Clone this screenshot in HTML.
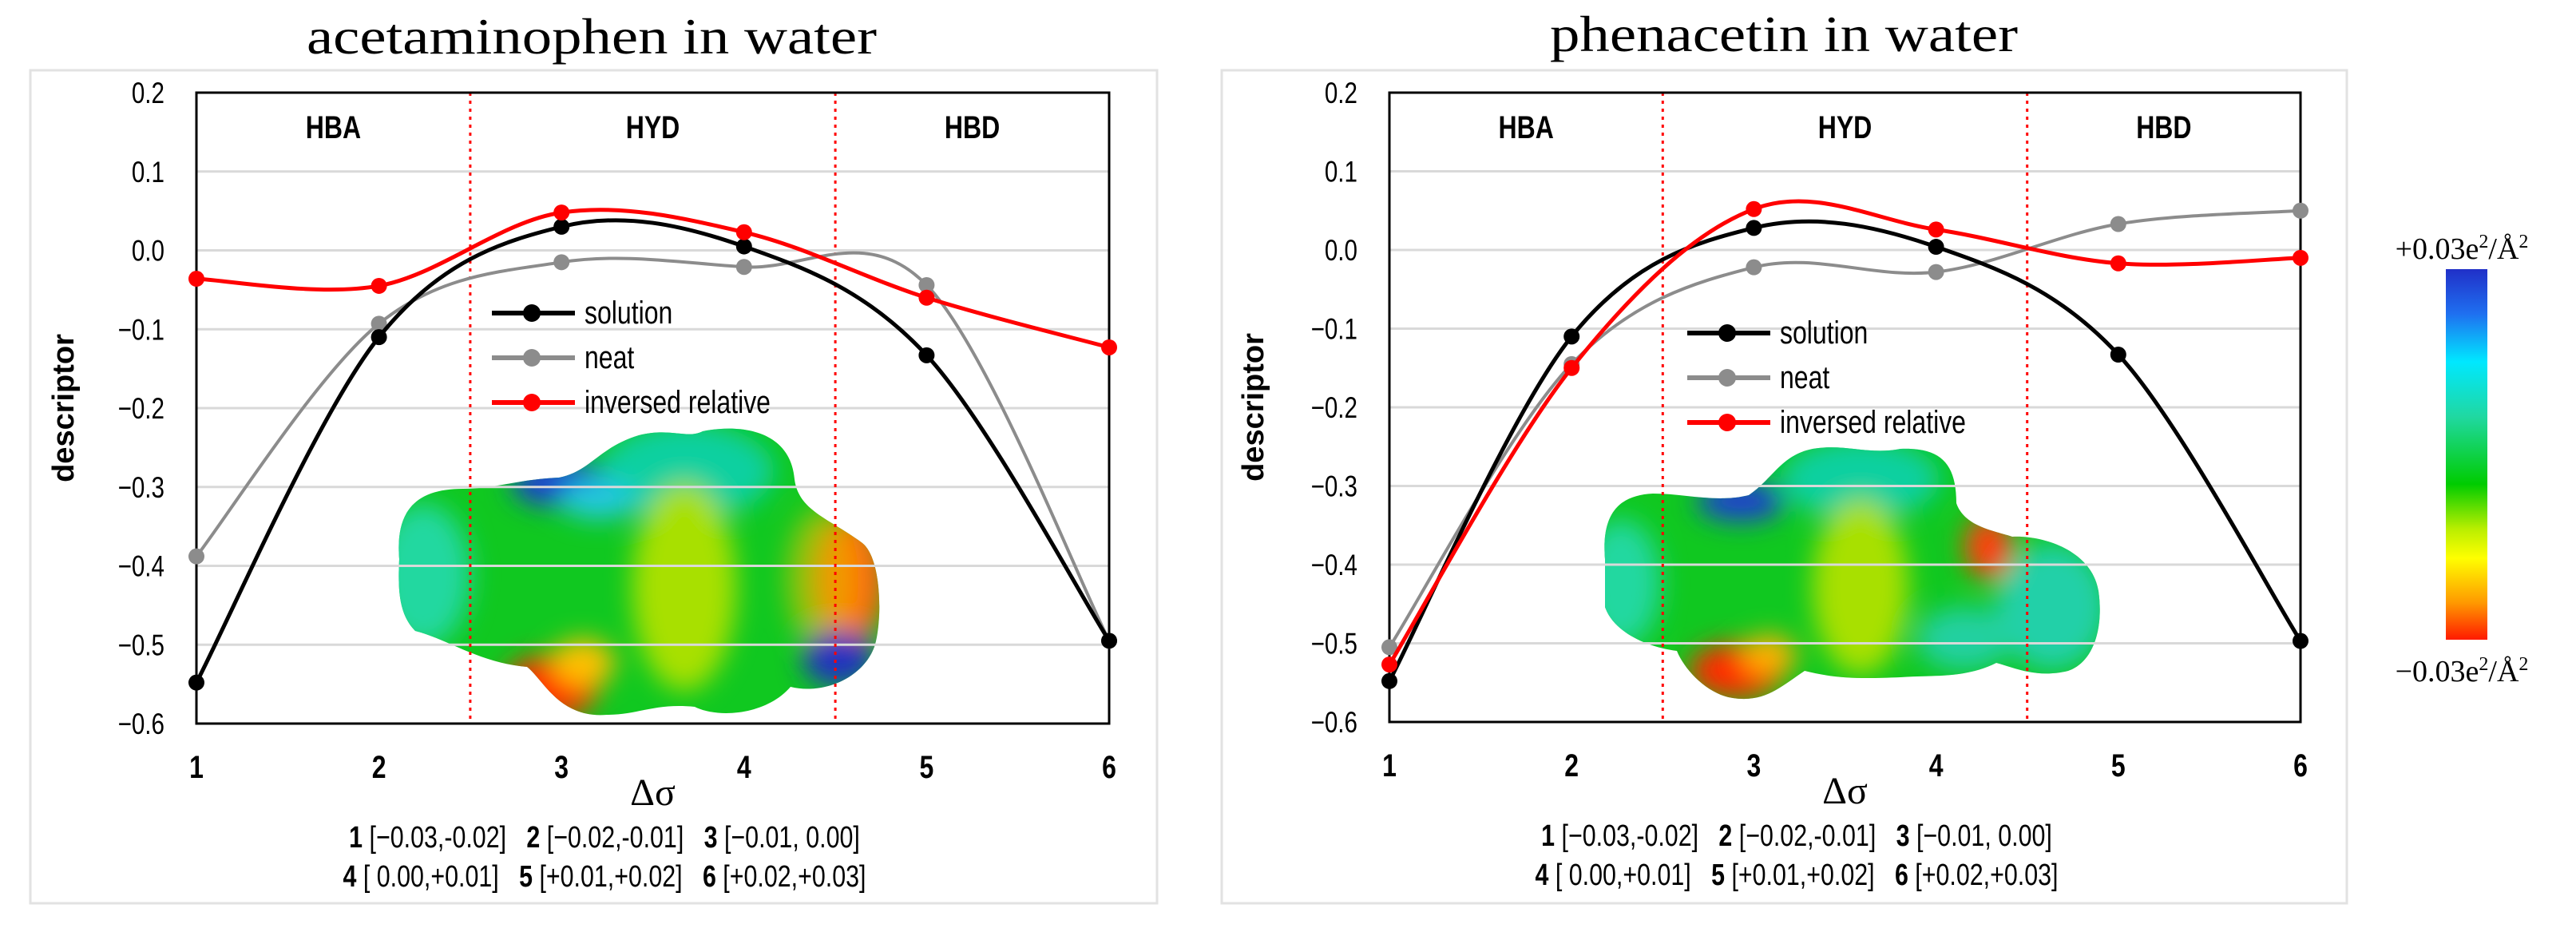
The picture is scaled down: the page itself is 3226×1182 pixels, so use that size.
<!DOCTYPE html>
<html><head><meta charset="utf-8"><style>
html,body{margin:0;padding:0;background:#fff;}
svg{display:block;}
.cond{font-family:"Liberation Sans",sans-serif;}
.serif{font-family:"Liberation Serif",serif;}
.pre{white-space:pre;}
</style></head><body>
<svg id="root" width="3226" height="1182" viewBox="0 0 3226 1182" xmlns="http://www.w3.org/2000/svg">
<defs>
<linearGradient id="cbar" x1="0" y1="0" x2="0" y2="1">
<stop offset="0" stop-color="#2030c8"/><stop offset="0.12" stop-color="#1f6ff0"/>
<stop offset="0.25" stop-color="#00e8ff"/><stop offset="0.4" stop-color="#20d8a0"/>
<stop offset="0.58" stop-color="#00cc00"/><stop offset="0.7" stop-color="#b8ee00"/>
<stop offset="0.78" stop-color="#ffff00"/><stop offset="0.9" stop-color="#ff9900"/>
<stop offset="1" stop-color="#ff1a00"/></linearGradient>
<filter id="blur" x="-20%" y="-20%" width="140%" height="140%"><feGaussianBlur stdDeviation="16"/></filter>
<clipPath id="clipL"><path d="M500,700 C495,640 520,612 580,612 C620,612 650,600 700,598 C740,590 750,560 800,545 C840,535 860,550 880,540 C930,530 990,540 995,600 C1000,640 1040,650 1080,680 C1105,700 1105,780 1095,810 C1080,850 1030,870 990,860 C960,895 900,900 870,885 C820,880 800,895 760,895 C700,900 680,850 660,835 C600,830 560,800 520,790 C500,770 498,740 500,700 Z"/></clipPath>
<clipPath id="clipR"><path d="M2010,700 C2005,640 2030,620 2070,618 C2110,618 2150,630 2190,620 C2220,600 2230,570 2270,562 C2310,555 2340,570 2380,562 C2430,560 2450,580 2450,630 C2460,660 2500,665 2520,672 C2560,670 2620,690 2628,740 C2635,790 2620,830 2590,840 C2550,850 2520,835 2500,830 C2460,850 2420,845 2380,848 C2330,850 2300,850 2260,840 C2230,860 2210,880 2170,874 C2140,870 2110,840 2100,815 C2060,810 2020,790 2010,760 Z"/></clipPath>
</defs>

<rect x="38" y="88" width="1411" height="1043" fill="none" stroke="#e2e2e2" stroke-width="3"/>
<rect x="1530" y="88" width="1409" height="1043" fill="none" stroke="#e2e2e2" stroke-width="3"/>

<text class="serif" x="741" y="67" font-size="64" text-anchor="middle" textLength="714" lengthAdjust="spacingAndGlyphs">acetaminophen in water</text>
<text class="serif" x="2234" y="64" font-size="64" text-anchor="middle" textLength="586" lengthAdjust="spacingAndGlyphs">phenacetin in water</text>

<g>
<g clip-path="url(#clipL)">
<rect x="480" y="520" width="640" height="400" fill="#10c820"/>
<g filter="url(#blur)">
<ellipse cx="530" cy="720" rx="60" ry="90" fill="#20d8a0"/>
<ellipse cx="860" cy="590" rx="110" ry="60" fill="#10d0a0"/>
<ellipse cx="700" cy="605" rx="60" ry="30" fill="#1f3fd0"/>
<ellipse cx="750" cy="625" rx="50" ry="25" fill="#20c8e0"/>
<ellipse cx="857" cy="735" rx="65" ry="130" fill="#a8e000"/>
<ellipse cx="1065" cy="725" rx="45" ry="80" fill="#ff6010"/>
<ellipse cx="1030" cy="725" rx="45" ry="90" fill="#e8c000" opacity="0.6"/>
<ellipse cx="1050" cy="825" rx="45" ry="35" fill="#2030c0"/>
<ellipse cx="690" cy="860" rx="60" ry="40" fill="#ff2a00"/>
<ellipse cx="730" cy="830" rx="40" ry="30" fill="#ffc000"/>
</g>
</g>
</g>
<g>
<g clip-path="url(#clipR)">
<rect x="1990" y="540" width="660" height="360" fill="#10c820"/>
<g filter="url(#blur)">
<ellipse cx="2030" cy="730" rx="50" ry="80" fill="#20d8a0"/>
<ellipse cx="2330" cy="600" rx="100" ry="50" fill="#10d0a0"/>
<ellipse cx="2180" cy="628" rx="55" ry="25" fill="#1f3fd0"/>
<ellipse cx="2570" cy="760" rx="70" ry="80" fill="#20d0a8"/>
<ellipse cx="2460" cy="800" rx="60" ry="40" fill="#20d0a0"/>
<ellipse cx="2330" cy="735" rx="60" ry="110" fill="#a8e000"/>
<ellipse cx="2490" cy="685" rx="30" ry="40" fill="#ff4010"/>
<ellipse cx="2175" cy="840" rx="60" ry="35" fill="#ff2a00"/>
<ellipse cx="2215" cy="820" rx="35" ry="25" fill="#ffb000"/>
</g>
</g>
</g>

<g id="plots"></g>

<g>
<rect x="3063" y="337" width="52" height="464" fill="url(#cbar)"/>
<text class="serif" x="3083" y="324" font-size="38" text-anchor="middle">+0.03e<tspan font-size="24" dy="-14">2</tspan><tspan dy="14">/Å</tspan><tspan font-size="24" dy="-14">2</tspan></text>
<text class="serif" x="3083" y="853" font-size="38" text-anchor="middle">−0.03e<tspan font-size="24" dy="-14">2</tspan><tspan dy="14">/Å</tspan><tspan font-size="24" dy="-14">2</tspan></text>
</g>
</svg>
<script>
const categories = [1, 2, 3, 4, 5, 6];
const yTicks = [0.2, 0.1, 0.0, -0.1, -0.2, -0.3, -0.4, -0.5, -0.6];
const yTickLabels = ["0.2", "0.1", "0.0", "−0.1", "−0.2", "−0.3", "−0.4", "−0.5", "−0.6"];
const regionLabels = ["HBA", "HYD", "HBD"];
const regionCenters = [1.75, 3.5, 5.25];
const regionBounds = [2.5, 4.5];
const seriesNames = ["solution", "neat", "inversed relative"];
const acetSolution = [-0.548, -0.11, 0.030, 0.005, -0.133, -0.495];
const acetNeat = [-0.388, -0.093, -0.015, -0.021, -0.044, -0.495];
const acetInversed = [-0.036, -0.045, 0.048, 0.023, -0.060, -0.123];
const phenSolution = [-0.548, -0.110, 0.028, 0.004, -0.133, -0.497];
const phenNeat = [-0.505, -0.145, -0.022, -0.028, 0.033, 0.050];
const phenInversed = [-0.527, -0.150, 0.052, 0.026, -0.017, -0.010];
const rangeLine1 = [["1", " [−0.03,-0.02]"], ["2", " [−0.02,-0.01]"], ["3", " [−0.01, 0.00]"]];
const rangeLine2 = [["4", " [ 0.00,+0.01]"], ["5", " [+0.01,+0.02]"], ["6", " [+0.02,+0.03]"]];

const NS = "http://www.w3.org/2000/svg";
const plotsG = document.getElementById("plots");
const SX = 0.8;
function mk(tag, attrs, parent) {
  const e = document.createElementNS(NS, tag);
  for (const k in attrs) e.setAttribute(k, attrs[k]);
  (parent || plotsG).appendChild(e);
  return e;
}
function ctext(x, y, attrs, parent) {
  attrs.x = 0; attrs.y = 0;
  attrs.transform = "translate(" + x + "," + y + ") scale(" + SX + ",1)";
  attrs.class = "cond";
  return mk("text", attrs, parent);
}
const colors = ["#000000", "#8c8c8c", "#ff0000"];
const widths = [5, 4, 5];

function drawPanel(prefix, x0, x1, yTop, yBot, yLabelRight, descX, legX, legY, series, textCx) {
  const g = mk("g", {});
  
  
  const xs = v => x0 + (v - 1) * (x1 - x0) / 5;
  const ys = v => yTop + (0.2 - v) * (yBot - yTop) / 0.8;
  yTicks.forEach((t, i) => {
    if (i > 0 && i < yTicks.length - 1) {
      const gl = mk("line", {x1: x0, x2: x1, y1: ys(t), y2: ys(t), stroke: "#d9d9d9", "stroke-width": 3}, g);
      
      
    }
    const tl = ctext(yLabelRight, ys(t) + 13, {"font-size": 37, "text-anchor": "end"}, g);
    
    
    tl.textContent = yTickLabels[i];
  });
  regionBounds.forEach(b => {
    const l = mk("line", {x1: xs(b), x2: xs(b), y1: yTop, y2: yBot, stroke: "#ff0000", "stroke-width": 3, "stroke-dasharray": "4 6"}, g);
    
    
  });
  regionLabels.forEach((r, i) => {
    const t = ctext(xs(regionCenters[i]), yTop + 57, {"font-size": 40, "font-weight": "bold", "text-anchor": "middle"}, g);
    
    
    t.textContent = r;
  });
  const fr = mk("rect", {x: x0, y: yTop, width: x1 - x0, height: yBot - yTop, fill: "none", stroke: "#000", "stroke-width": 3}, g);
  
  
  categories.forEach(c => {
    const t = ctext(xs(c), yBot + 68, {"font-size": 40, "font-weight": "bold", "text-anchor": "middle"}, g);
    
    
    t.textContent = c;
  });
  const xt = mk("text", {x: xs(3.5), y: yBot + 102, "font-size": 48, "text-anchor": "middle", class: "serif"}, g);
  
  
  xt.textContent = "Δσ";
  const yt = mk("text", {x: 0, y: 0, "font-size": 38, "font-weight": "bold", "text-anchor": "middle", transform: "translate(" + descX + "," + ys(-0.2) + ") rotate(-90)", "font-family": "Liberation Sans, sans-serif"}, g);
  
  
  yt.textContent = "descriptor";
  [1, 0, 2].forEach(si => {
    const vals = series[si];
    const pts = vals.map((v, i) => [xs(categories[i]), ys(v)]);
    let d = "M" + pts[0][0] + "," + pts[0][1];
    for (let i = 0; i < pts.length - 1; i++) {
      const p0 = pts[Math.max(0, i - 1)], p1 = pts[i], p2 = pts[i + 1], p3 = pts[Math.min(pts.length - 1, i + 2)];
      const c1 = [p1[0] + (p2[0] - p0[0]) / 6, p1[1] + (p2[1] - p0[1]) / 6];
      const c2 = [p2[0] - (p3[0] - p1[0]) / 6, p2[1] - (p3[1] - p1[1]) / 6];
      d += " C" + c1[0] + "," + c1[1] + " " + c2[0] + "," + c2[1] + " " + p2[0] + "," + p2[1];
    }
    const sg = mk("g", {}, g);
    
    
    const p = mk("path", {d: d, fill: "none", stroke: colors[si], "stroke-width": widths[si]}, sg);
    
    
    pts.forEach(pt => {
      const c = mk("circle", {cx: pt[0], cy: pt[1], r: 10, fill: colors[si]}, sg);
      
      
    });
  });
  const lg = mk("g", {}, g);
  
  
  seriesNames.forEach((n, i) => {
    const yy = legY + i * 56;
    const e = mk("g", {}, lg);
    
    
    mk("line", {x1: legX, x2: legX + 104, y1: yy, y2: yy, stroke: colors[i], "stroke-width": 6}, e);
    mk("circle", {cx: legX + 50, cy: yy, r: 11, fill: colors[i]}, e);
    const t = ctext(legX + 116, yy + 13, {"font-size": 40}, e);
    t.textContent = n;
  });
  [rangeLine1, rangeLine2].forEach((line, li) => {
    const t = ctext(textCx, yBot + 155 + li * 49, {"font-size": 38, "text-anchor": "middle"}, g);
    t.setAttribute("style", "white-space:pre");
    
    
    line.forEach((pair, k) => {
      const b = mk("tspan", {"font-weight": "bold"}, t);
      b.textContent = (k > 0 ? "   " : "") + pair[0];
      const r = mk("tspan", {}, t);
      r.textContent = pair[1];
    });
  });
}
drawPanel("acetaminophen", 246, 1389, 116, 906, 206, 92, 616, 392, [acetSolution, acetNeat, acetInversed], 757);
drawPanel("phenacetin", 1740, 2881, 116, 904, 1700, 1582, 2113, 417, [phenSolution, phenNeat, phenInversed], 2250);
</script>
</body></html>
